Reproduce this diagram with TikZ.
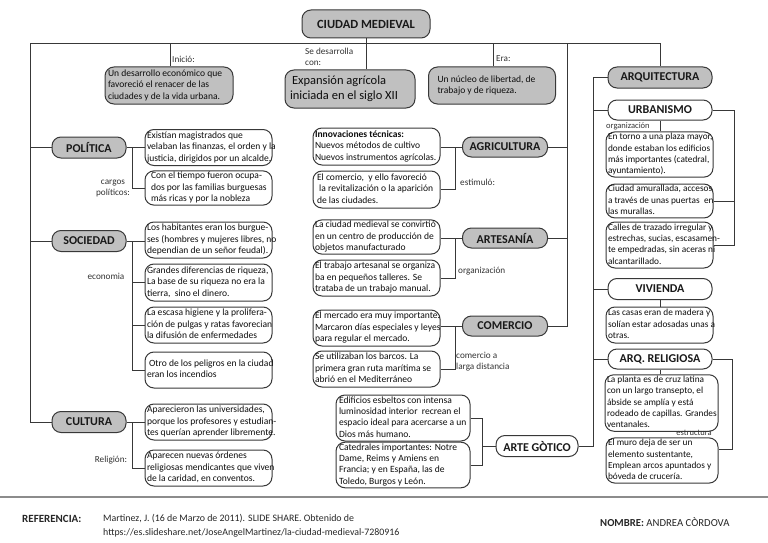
\documentclass[tikz,border=0pt]{standalone}
\usepackage{fontspec}
\setmainfont{Carlito}
\usetikzlibrary{calc}
\definecolor{gfill}{HTML}{C0C0C0}
\definecolor{lin}{HTML}{383838}
\newcommand\TB[2]{\makebox[#1pt][l]{\begin{tabular}{@{}l@{}}#2\end{tabular}}}
\begin{document}
\begin{tikzpicture}[x=1pt,y=-1pt,
 every node/.style={inner sep=0pt},
 sz/.style 2 args={minimum width=#1pt,minimum height=#2pt},
 tbox/.style={draw=lin, line width=1pt, rounded corners=9pt, inner xsep=2pt, font=\fontsize{9.55}{11.4}\selectfont, text=black!95},
 rbox/.style={tbox, font=\fontsize{9.3}{11.3}\selectfont},
 gbox/.style={tbox, fill=gfill},
 head/.style={draw=lin, line width=1pt, rounded corners=9pt, fill=gfill, font=\bfseries\fontsize{12}{14}\selectfont, align=center, text=black!90},
 whead/.style={head, fill=white},
 lbl/.style={font=\fontsize{9.2}{11}\selectfont, text=black!80},
 con/.style={draw=lin, line width=1pt}]
\useasboundingbox (0,0) rectangle (768,543);
% top
\node[head, sz={128}{28}, font=\bfseries\fontsize{12.5}{14}\selectfont] (cm) at (366,24) {CIUDAD MEDIEVAL};
\node[gbox, sz={128}{37}, inner xsep=3pt] (des) at (169,85.5) {\TB{122}{Un desarrollo económico que\\favoreció el renacer de las\\ciudades y de la vida urbana.}};
\node[gbox, sz={130}{38}, inner xsep=5pt, font=\fontsize{12.5}{14.5}\selectfont] (exp) at (350,89) {\TB{120}{\,Expansión agrícola\\iniciada en el siglo XII}};
\node[gbox, sz={127}{37}, inner xsep=9pt] (nuc) at (492,85.5) {\TB{109}{Un núcleo de libertad, de\\trabajo y de riqueza.}};
\node[lbl, anchor=west] (lI) at (172,59) {Inició:};
\node[lbl, anchor=west, align=left] (lS) at (305,57) {Se desarrolla\\con:};
\node[lbl, anchor=west] (lE) at (496,59) {Era:};
% left column
\node[head, sz={74}{21}] (pol) at (89,147.5) {POLÍTICA};
\node[head, sz={74}{21}] (soc) at (89,241) {SOCIEDAD};
\node[head, sz={74}{21}] (cul) at (89,422) {CULTURA};
\node[tbox, sz={127}{36}] (p1) at (208.5,147.5) {\TB{123}{Existían magistrados que\\velaban las finanzas, el orden y la\\justicia, dirigidos por un alcalde.}};
\node[tbox, sz={127}{34}, inner xsep=6pt] (p2) at (208.5,188) {\TB{115}{Con el tiempo fueron ocupa-\\dos por las familias burguesas\\más ricas y por la nobleza}};
\node[tbox, sz={127}{36}] (s1) at (208.5,240) {\TB{123}{Los habitantes eran los burgue-\\ses (hombres y mujeres libres, no\\dependian de un señor feudal).}};
\node[tbox, sz={127}{37}] (s2) at (208.5,282.5) {\TB{123}{Grandes diferencias de riqueza,\\La base de su riqueza no era la\\tierra,\ \ sino el dinero.}};
\node[tbox, sz={127}{36}] (s3) at (208.5,325) {\TB{123}{La escasa higiene y la prolifera-\\ción de pulgas y ratas favorecian\\la difusión de enfermedades}};
\node[tbox, sz={127}{36}] (s4) at (208.5,370) {\TB{123}{\ Otro de los peligros en la ciudad\\eran los incendios}};
\node[tbox, sz={127}{36}] (c1) at (208.5,422) {\TB{123}{Aparecieron las universidades,\\porque los profesores y estudian-\\tes querían aprender libremente.}};
\node[tbox, sz={127}{36}] (c2) at (208.5,468) {\TB{123}{Aparecen nuevas órdenes\\religiosas mendicantes que viven\\de la caridad, en conventos.}};
\node[lbl, align=center] (lcp) at (113,189) {cargos\\políticos:};
\node[lbl] (lec) at (106,276) {economia};
\node[lbl] (lre) at (111,460) {Religión:};
% middle column
\node[head, sz={85}{20}] (agr) at (505,147) {AGRICULTURA};
\node[head, sz={85}{20}] (art) at (505,238) {ARTESANÍA};
\node[head, sz={85}{20}] (com) at (505,326) {COMERCIO};
\node[tbox, sz={127}{37}] (a1) at (376.5,146.5) {\TB{123}{\textbf{Innovaciones técnicas:}\\Nuevos métodos de cultivo\\Nuevos instrumentos agrícolas.}};
\node[tbox, sz={127}{37}, inner xsep=4pt] (a2) at (376.5,189.5) {\TB{119}{El comercio,\ \ y ello favoreció\\\ la revitalización o la aparición\\de las ciudades.}};
\node[tbox, sz={127}{34}] (r1) at (376.5,237) {\TB{123}{La ciudad medieval se convirtió\\en un centro de producción de\\objetos manufacturado}};
\node[tbox, sz={127}{36}] (r2) at (376.5,278) {\TB{123}{El trabajo artesanal se organiza\\ba en pequeños talleres. Se\\trataba de un trabajo manual.}};
\node[tbox, sz={127}{36}] (m1) at (376.5,328) {\TB{123}{El mercado era muy importante.\\Marcaron días especiales y leyes\\para regular el mercado.}};
\node[tbox, sz={127}{36}] (m2) at (376.5,369) {\TB{123}{Se utilizaban los barcos. La\\primera gran ruta marítima se\\abrió en el Mediterráneo}};
\node[lbl, anchor=west] (les) at (460,182) {estimuló:};
\node[lbl, anchor=west] (lor) at (458,271) {organización};
\node[lbl, anchor=west, align=left] (lcl) at (456,362) {comercio a\\larga distancia};
% gothic
\node[tbox, sz={134}{46}, inner xsep=3pt] (g1) at (403,418) {\TB{128}{Edificios esbeltos con intensa\\luminosidad interior\ \ recrean el\\espacio ideal para acercarse a un\\Dios más humano.}};
\node[tbox, sz={134}{44}, inner xsep=3pt] (g2) at (403,465) {\TB{128}{Catedrales importantes: Notre\\Dame, Reims y Amiens en\\Francia; y en España, las de\\Toledo, Burgos y León.}};
\node[whead, sz={82}{21}] (got) at (537,446) {ARTE GÒTICO};
% right column
\node[head, sz={104}{21}] (arq) at (660,77.5) {ARQUITECTURA};
\node[whead, sz={104}{20}] (urb) at (660,110) {URBANISMO};
\node[rbox, sz={107}{45}] (e1) at (659.5,154.5) {\TB{103}{En torno a una plaza mayor,\\donde estaban los edificios\\más importantes (catedral,\\ayuntamiento).}};
\node[rbox, sz={107}{32}] (e2) at (659.5,201) {\TB{103}{Ciudad amurallada, accesos\\a través de unas puertas\ \ en\\las murallas.}};
\node[rbox, sz={107}{46}] (e3) at (659.5,245) {\TB{103}{Calles de trazado irregular y\\estrechas, sucias, escasamen-\\te empedradas, sin aceras ni\\alcantarillado.}};
\node[lbl, anchor=west, font=\fontsize{8.5}{10}\selectfont] (lorg) at (606,126) {organización};
\node[whead, sz={104}{21}] (viv) at (660,289) {VIVIENDA};
\node[rbox, sz={107}{36}] (v1) at (659.5,325) {\TB{103}{Las casas eran de madera y\\solían estar adosadas unas a\\otras.}};
\node[whead, sz={104}{20}] (rel) at (660,359) {ARQ. RELIGIOSA};
\node[rbox, sz={113}{52}] (q1) at (661.5,403) {\TB{109}{La planta es de cruz latina\\con un largo transepto, el\\ábside se amplía y está\\rodeado de capillas. Grandes\\ventanales.}};
\node[rbox, sz={112}{45}] (q2) at (662,460.5) {\TB{108}{El muro deja de ser un\\elemento sustentante,\\Emplean arcos apuntados y\\bóveda de crucería.}};
\node[lbl, anchor=east, font=\fontsize{8.5}{10}\selectfont] (lest) at (712,433) {estructura};
% coordinates
\coordinate (tl) at (30,44);
\coordinate (tr) at (660,44);
\coordinate (vI) at (170,44);
\coordinate (vE) at (493,44);
\coordinate (vM) at (567,44);
\coordinate (vR) at (593,446);
\coordinate (bP) at (132,147.5);
\coordinate (bS) at (132,241);
\coordinate (bC) at (132,422);
\coordinate (bA) at (455,147);
\coordinate (bR) at (455,238);
\coordinate (bM) at (455,326);
\coordinate (bG) at (482,446);
\coordinate (bU) at (734,110);
\coordinate (bRl) at (732,359);
\coordinate (bRe) at (732,449);
% connectors
\draw[con] (tl) -- (tr) -- (arq.north);
\draw[con] (cm.south) -- (cm.south |- exp.north);
\draw[con] (vI) -- (vI |- des.north);
\draw[con] (vE) -- (vE |- nuc.north);
\draw[con] (tl) |- (cul.west);
\draw[con] (tl |- pol.west) -- (pol.west);
\draw[con] (tl |- soc.west) -- (soc.west);
\draw[con] (vM) |- (com.east);
\draw[con] (vM |- agr.east) -- (agr.east);
\draw[con] (vM |- art.east) -- (art.east);
\draw[con] (pol.east) -- (bP) |- (p2.west);
\draw[con] (bP) -- (p1.west);
\draw[con] (soc.east) -- (bS) |- (s4.west);
\draw[con] (bS) -- (bS -| s1.west);
\draw[con] (bS |- s2.west) -- (s2.west);
\draw[con] (bS |- s3.west) -- (s3.west);
\draw[con] (cul.east) -- (bC) |- (c2.west);
\draw[con] (bC) -- (c1.west);
\draw[con] (agr.west) -- (bA) |- (a2.east);
\draw[con] (bA) -- (bA -| a1.east);
\draw[con] (art.west) -- (bR) |- (r2.east);
\draw[con] (bR) -- (bR -| r1.east);
\draw[con] (com.west) -- (bM) |- (m2.east);
\draw[con] (bM) -- (bM -| m1.east);
\draw[con] (got.west) -- (bG);
\draw[con] (g1.east) -| (bG);
\draw[con] (g2.east) -| (bG);
\draw[con] (arq.west) -| (vR) -- (got.east);
\draw[con] (vR |- urb.west) -- (urb.west);
\draw[con] (vR |- viv.west) -- (viv.west);
\draw[con] (vR |- rel.west) -- (rel.west);
\draw[con] (urb.east) -- (bU) |- (e3.east);
\draw[con] (bU |- e2.east) -- (e2.east);
\draw[con] (urb.south) -- (urb.south |- e1.north);
\draw[con] (viv.south) -- (viv.south |- v1.north);
\draw[con] (rel.south) -- (rel.south |- q1.north);
\draw[con] (rel.east) -- (bRl) -- (bRe) -- (bRe -| q2.east);
% footer
\draw[line width=2pt, black!45] (0,497) -- (768,497);
\node[anchor=west, font=\bfseries\fontsize{11}{12}\selectfont, text=black!85] (ref) at (22,519) {REFERENCIA:};
\node[anchor=west, align=left, font=\fontsize{9.9}{14}\selectfont, text=black!85] (cit) at (103,526) {Martinez, J. (16 de Marzo de 2011). SLIDE SHARE. Obtenido de\\https://es.slideshare.net/JoseAngelMartinez/la-ciudad-medieval-7280916};
\node[anchor=west, font=\fontsize{10.7}{12}\selectfont, text=black!85] (nom) at (600,522) {\textbf{NOMBRE:} ANDREA CÒRDOVA};
\end{tikzpicture}
\end{document}
